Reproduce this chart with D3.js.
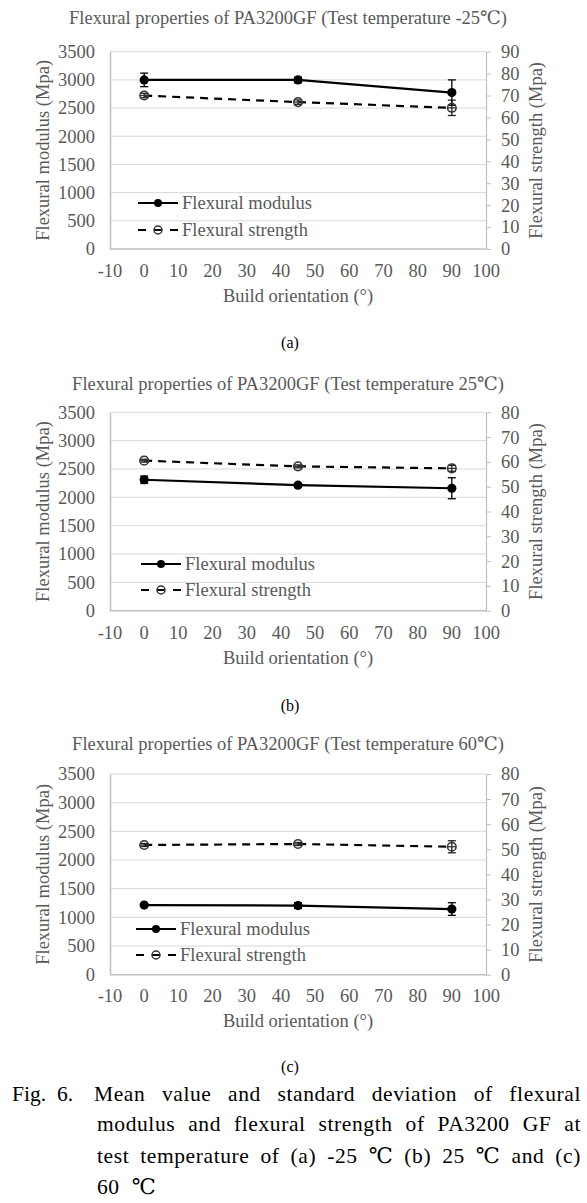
<!DOCTYPE html>
<html><head><meta charset="utf-8">
<script src="https://cdn.jsdelivr.net/npm/d3@7"></script>
<style>
body{margin:0;background:#fff;}
svg text{font-family:"Liberation Serif","DejaVu Serif",serif;}
</style></head>
<body>
<script>
// ---- data ----
const xTicks = [-10,0,10,20,30,40,50,60,70,80,90,100];
const orientations = [0,45,90];
const leftTicks = [0,500,1000,1500,2000,2500,3000,3500];
const titles = [
  "Flexural properties of PA3200GF (Test temperature -25\u2103)",
  "Flexural properties of PA3200GF (Test temperature 25\u2103)",
  "Flexural properties of PA3200GF (Test temperature 60\u2103)"
];
const subLabels = ["(a)","(b)","(c)"];
const rightMax = [90,80,80];
const modulusA = [3000,3000,2775], modulusErrA = [120,50,225];
const strengthA = [70,67,64.4], strengthErrA = [1,1,3.5];
const modulusB = [2310,2215,2160], modulusErrB = [65,30,185];
const strengthB = [60.5,58.2,57.4], strengthErrB = [0.6,0.6,1.2];
const modulusC = [1215,1205,1145], modulusErrC = [20,50,110];
const strengthC = [51.7,52.1,51.0], strengthErrC = [0.6,0.6,2.4];
const legendLabels = ["Flexural modulus","Flexural strength"];
const xTitle = "Build orientation (\u00b0)";
const yLeftTitle = "Flexural modulus (Mpa)";
const yRightTitle = "Flexural strength (Mpa)";
const captionPrefix = ["Fig.","6."];
const captionLines = [
  "Mean value and standard deviation of flexural",
  "modulus and flexural strength of PA3200 GF at",
  "test temperature of (a) -25 \u2103 (b) 25 \u2103 and (c)",
  "60 \u2103"
];

const panels = [
  {mod:modulusA, modErr:modulusErrA, str:strengthA, strErr:strengthErrA, rmax:rightMax[0],
   top:51.7, bottom:249, titleY:18, tickY:271, axisTitleY:296, subY:342, legY:[203,230], legX:138},
  {mod:modulusB, modErr:modulusErrB, str:strengthB, strErr:strengthErrB, rmax:rightMax[1],
   top:412.3, bottom:610.7, titleY:384, tickY:633, axisTitleY:658, subY:705, legY:[564,590], legX:141},
  {mod:modulusC, modErr:modulusErrC, str:strengthC, strErr:strengthErrC, rmax:rightMax[2],
   top:774, bottom:974.7, titleY:744, tickY:996, axisTitleY:1021, subY:1066, legY:[929,955], legX:136}
];

const W = 587, H = 1203;
const gray = "#595959", grid = "#d9d9d9", axisCol = "#bfbfbf";
const FS = 18.5;
const svg = d3.select("body").append("svg").attr("width",W).attr("height",H);
const xLeft = 110, xRight = 486;
const x = d3.scaleLinear().domain([-10,100]).range([xLeft,xRight]);

panels.forEach((p,i)=>{
  const g = svg.append("g");
  const yL = d3.scaleLinear().domain([0,3500]).range([p.bottom,p.top]);
  const yR = d3.scaleLinear().domain([0,p.rmax]).range([p.bottom,p.top]);
  const rTicks = d3.range(0,p.rmax+1,10);

  g.append("text").attr("x",288).attr("y",p.titleY).attr("dy","0.35em")
    .attr("text-anchor","middle").attr("font-size",18.5).attr("fill",gray).text(titles[i]);

  // gridlines
  g.selectAll(".grid").data(leftTicks.filter(d=>d>0)).join("line")
    .attr("x1",xLeft).attr("x2",xRight).attr("y1",d=>yL(d)).attr("y2",d=>yL(d))
    .attr("stroke",grid).attr("stroke-width",1);

  // left axis
  const la = g.append("g").attr("transform",`translate(${xLeft},0)`)
    .call(d3.axisLeft(yL).tickValues(leftTicks).tickSize(0).tickPadding(15).tickFormat(d3.format("d")));
  la.select(".domain").attr("stroke",axisCol).attr("stroke-width",1.5);
  la.selectAll("text").attr("font-size",FS).attr("fill",gray);

  // right axis
  const ra = g.append("g").attr("transform",`translate(${xRight},0)`)
    .call(d3.axisRight(yR).tickValues(rTicks).tickSize(5).tickSizeOuter(0).tickPadding(10).tickFormat(d3.format("d")));
  ra.select(".domain").attr("stroke",axisCol).attr("stroke-width",1.2);
  ra.selectAll("line").attr("stroke",axisCol);
  ra.selectAll("text").attr("font-size",FS).attr("fill",gray);

  // bottom axis
  g.append("line").attr("x1",xLeft).attr("x2",xRight).attr("y1",p.bottom).attr("y2",p.bottom)
    .attr("stroke",axisCol).attr("stroke-width",1.5);
  g.selectAll(".xt").data(xTicks).join("text")
    .attr("x",d=>x(d)).attr("y",p.tickY).attr("dy","0.35em").attr("text-anchor","middle")
    .attr("font-size",FS).attr("fill",gray).text(d=>d);

  g.append("text").attr("x",(xLeft+xRight)/2).attr("y",p.axisTitleY).attr("dy","0.35em")
    .attr("text-anchor","middle").attr("font-size",FS).attr("fill",gray).text(xTitle);
  const cy = (p.top+p.bottom)/2;
  g.append("text").attr("transform",`translate(43,${cy}) rotate(-90)`).attr("dy","0.35em")
    .attr("text-anchor","middle").attr("font-size",FS).attr("fill",gray).text(yLeftTitle);
  g.append("text").attr("transform",`translate(536,${cy}) rotate(-90)`).attr("dy","0.35em")
    .attr("text-anchor","middle").attr("font-size",FS).attr("fill",gray).text(yRightTitle);

  g.append("text").attr("x",290).attr("y",p.subY).attr("dy","0.35em")
    .attr("text-anchor","middle").attr("font-size",16).attr("fill","#000").text(subLabels[i]);

  const sData = orientations.map((o,k)=>({x:o,v:p.str[k],e:p.strErr[k]}));
  const mData = orientations.map((o,k)=>({x:o,v:p.mod[k],e:p.modErr[k]}));
  const line = (ys)=>d3.line().x(d=>x(d.x)).y(d=>ys(d.v));

  g.append("path").datum(sData).attr("d",line(yR)).attr("fill","none")
    .attr("stroke","#000").attr("stroke-width",2.2).attr("stroke-dasharray","8,6");
  g.append("path").datum(mData).attr("d",line(yL)).attr("fill","none")
    .attr("stroke","#000").attr("stroke-width",2.2);

  const errBars = (data, ys, col)=>{
    data.forEach(d=>{
      const x0 = x(d.x), y1 = ys(d.v+d.e), y2 = ys(d.v-d.e);
      g.append("line").attr("x1",x0).attr("x2",x0).attr("y1",y1).attr("y2",y2).attr("stroke",col).attr("stroke-width",1.3);
      [y1,y2].forEach(yy=>g.append("line").attr("x1",x0-4).attr("x2",x0+4).attr("y1",yy).attr("y2",yy).attr("stroke",col).attr("stroke-width",1.3));
    });
  };
  errBars(sData, yR, "#222");
  errBars(mData, yL, "#000");

  g.selectAll(".sm").data(sData).join("g").each(function(d){
    const s = d3.select(this);
    s.append("circle").attr("cx",x(d.x)).attr("cy",yR(d.v)).attr("r",4.3).attr("fill","none")
      .attr("stroke","#333").attr("stroke-width",1.5);
    s.append("line").attr("x1",x(d.x)-4).attr("x2",x(d.x)+4).attr("y1",yR(d.v)).attr("y2",yR(d.v))
      .attr("stroke","#333").attr("stroke-width",1.3);
  });
  g.selectAll(".mm").data(mData).join("circle").attr("cx",d=>x(d.x)).attr("cy",d=>yL(d.v))
    .attr("r",4.6).attr("fill","#000");

  // legend
  const lx = p.legX;
  g.append("line").attr("x1",lx).attr("x2",lx+40).attr("y1",p.legY[0]).attr("y2",p.legY[0]).attr("stroke","#000").attr("stroke-width",2.2);
  g.append("circle").attr("cx",lx+20).attr("cy",p.legY[0]).attr("r",4).attr("fill","#000");
  g.append("line").attr("x1",lx).attr("x2",lx+40).attr("y1",p.legY[1]).attr("y2",p.legY[1]).attr("stroke","#000").attr("stroke-width",2.2).attr("stroke-dasharray","8,8");
  g.append("circle").attr("cx",lx+20).attr("cy",p.legY[1]).attr("r",4).attr("fill","none").attr("stroke","#333").attr("stroke-width",1.5);
  legendLabels.forEach((t,k)=>{
    g.append("text").attr("x",lx+44).attr("y",p.legY[k]).attr("dy","0.35em")
      .attr("font-size",FS).attr("fill",gray).text(t);
  });
});

// caption (justified)
const capFS = 21.5;
const capY = [1093,1123,1155,1186];
const capX0 = [94,97,97,97];
const capX1 = 581;
const cap = svg.append("g");
cap.append("text").attr("x",12).attr("y",capY[0]).attr("dy","0.35em").attr("font-size",capFS).text(captionPrefix[0]);
cap.append("text").attr("x",57).attr("y",capY[0]).attr("dy","0.35em").attr("font-size",capFS).text(captionPrefix[1]);
captionLines.forEach((ln,i)=>{
  const words = ln.split(" ");
  const texts = words.map(w=>cap.append("text").attr("y",capY[i]).attr("dy","0.35em")
     .attr("font-size",capFS).attr("letter-spacing",0.6).attr("fill","#000").text(w));
  const widths = texts.map(t=>t.node().getComputedTextLength());
  const total = d3.sum(widths);
  const gap = (i < captionLines.length-1) ? (capX1-capX0[i]-total)/(words.length-1) : 12;
  let cx = capX0[i];
  texts.forEach((t,k)=>{ t.attr("x",cx); cx += widths[k]+gap; });
});
</script>
</body></html>
